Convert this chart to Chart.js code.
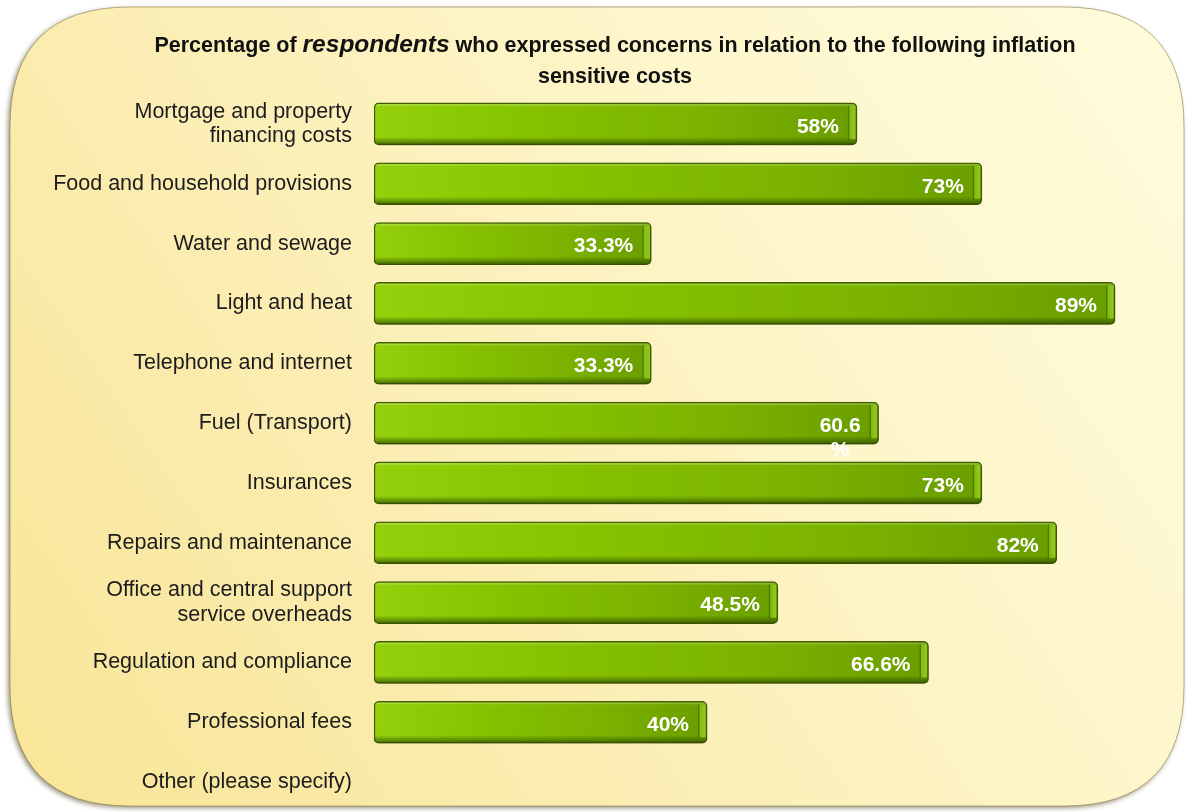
<!DOCTYPE html>
<html>
<head>
<meta charset="utf-8">
<script src="https://cdn.jsdelivr.net/npm/chart.js@4.4.1/dist/chart.umd.min.js"></script>
<style>
  html, body { margin: 0; padding: 0; background: #ffffff; overflow: hidden; }
  #wrap { width: 1187px; height: 812px; position: relative; }
</style>
</head>
<body>
<div id="wrap"><canvas id="c" width="1187" height="812"></canvas></div>
<script>
// Cost categories (multi-line labels as arrays)
const categories = [
  ['Mortgage and property', 'financing costs'],
  'Food and household provisions',
  'Water and sewage',
  'Light and heat',
  'Telephone and internet',
  'Fuel (Transport)',
  'Insurances',
  'Repairs and maintenance',
  ['Office and central support', 'service overheads'],
  'Regulation and compliance',
  'Professional fees',
  'Other (please specify)'
];

// Share of respondents concerned, in percent (no bar for "Other")
const concernPct = [58, 73, 33.3, 89, 33.3, 60.6, 73, 82, 48.5, 66.6, 40, null];

// Value labels whose "%" wraps onto a second line
const wrappedLabelIdx = [5];

const FONT = "'Liberation Sans', Arial, Helvetica, sans-serif";
Chart.defaults.font.family = FONT;

function roundRectPath(ctx, x, y, w, h, r) {
  ctx.beginPath();
  ctx.moveTo(x + r, y);
  ctx.lineTo(x + w - r, y);
  ctx.quadraticCurveTo(x + w, y, x + w, y + r);
  ctx.lineTo(x + w, y + h - r);
  ctx.quadraticCurveTo(x + w, y + h, x + w - r, y + h);
  ctx.lineTo(x + r, y + h);
  ctx.quadraticCurveTo(x, y + h, x, y + h - r);
  ctx.lineTo(x, y + r);
  ctx.quadraticCurveTo(x, y, x + r, y);
  ctx.closePath();
}

// Rounded cream panel behind the whole chart
const panelPlugin = {
  id: 'panel',
  beforeDraw(chart) {
    const ctx = chart.ctx;
    ctx.save();
    ctx.fillStyle = '#ffffff';
    ctx.fillRect(0, 0, chart.width, chart.height);
    const x = 10, y = 7, w = 1174, h = 799, r = 120;
    roundRectPath(ctx, x, y, w, h, r);
    const g = ctx.createLinearGradient(x, y + h, x + w, y);
    g.addColorStop(0, '#f8e596');
    g.addColorStop(0.35, '#fbedb2');
    g.addColorStop(0.7, '#fef7cd');
    g.addColorStop(1, '#fffcdc');
    ctx.shadowColor = 'rgba(60,50,10,0.55)';
    ctx.shadowBlur = 5;
    ctx.shadowOffsetX = -2;
    ctx.shadowOffsetY = 2;
    ctx.fillStyle = g;
    ctx.fill();
    ctx.shadowColor = 'transparent';
    ctx.lineWidth = 1;
    ctx.strokeStyle = 'rgba(130,115,60,0.55)';
    ctx.stroke();
    ctx.restore();
  }
};

// Two-line heading with an italic word
const headingPlugin = {
  id: 'heading',
  afterDraw(chart) {
    const ctx = chart.ctx;
    const cx = 615;
    const parts = [
      ['Percentage of ', 'bold 21.5px ' + FONT],
      ['respondents', 'italic bold 24.5px ' + FONT],
      [' who expressed concerns in relation to the following inflation', 'bold 21.5px ' + FONT]
    ];
    ctx.save();
    ctx.fillStyle = '#111111';
    ctx.textBaseline = 'alphabetic';
    let total = 0;
    parts.forEach(p => { ctx.font = p[1]; total += ctx.measureText(p[0]).width; });
    let x = cx - total / 2;
    ctx.textAlign = 'left';
    parts.forEach(p => { ctx.font = p[1]; ctx.fillText(p[0], x, 52); x += ctx.measureText(p[0]).width; });
    ctx.font = 'bold 21.5px ' + FONT;
    ctx.textAlign = 'center';
    ctx.fillText('sensitive costs', cx, 83);
    ctx.restore();
  }
};

// Soft shadow under the bars
const barShadowPlugin = {
  id: 'barShadow',
  beforeDatasetDraw(chart) {
    const ctx = chart.ctx;
    ctx.save();
    ctx.shadowColor = 'rgba(40,40,0,0.35)';
    ctx.shadowBlur = 3;
    ctx.shadowOffsetX = 0;
    ctx.shadowOffsetY = 2;
  },
  afterDatasetDraw(chart) {
    chart.ctx.restore();
  }
};

// Bevel details and value labels on each bar
const barDecorPlugin = {
  id: 'barDecor',
  afterDatasetsDraw(chart) {
    const ctx = chart.ctx;
    const meta = chart.getDatasetMeta(0);
    meta.data.forEach((bar, i) => {
      const v = concernPct[i];
      if (v == null) return;
      const p = bar.getProps(['x', 'y', 'base', 'height'], true);
      const top = p.y - p.height / 2, bot = p.y + p.height / 2;
      const left = p.base, right = p.x;
      ctx.save();
      roundRectPath(ctx, left + 0.75, top + 0.75, right - left - 1.5, p.height - 1.5, 4.5);
      ctx.clip();
      // top highlight
      ctx.fillStyle = 'rgba(255,255,210,0.22)';
      ctx.fillRect(left, top + 1, right - left, 2);
      // lower bevel
      const sg = ctx.createLinearGradient(0, bot - 8, 0, bot);
      sg.addColorStop(0, 'rgba(40,70,0,0)');
      sg.addColorStop(1, 'rgba(40,70,0,0.75)');
      ctx.fillStyle = sg;
      ctx.fillRect(left, bot - 8, right - left, 8);
      // lit end cap
      ctx.fillStyle = 'rgba(60,95,0,0.55)';
      ctx.fillRect(right - 9, top + 3, 1.5, p.height - 8);
      const eg = ctx.createLinearGradient(right - 8, 0, right - 1, 0);
      eg.addColorStop(0, '#80b80c');
      eg.addColorStop(1, '#94cc22');
      ctx.fillStyle = eg;
      ctx.fillRect(right - 7.5, top + 3, 6, p.height - 9);
      ctx.restore();

      // value label
      ctx.save();
      ctx.font = 'bold 21px ' + FONT;
      ctx.fillStyle = '#ffffff';
      ctx.textBaseline = 'middle';
      const txt = `${v}%`;
      const rEdge = right - 18;
      if (wrappedLabelIdx.includes(i)) {
        const l1 = String(v), l2 = '%';
        const w = ctx.measureText(l1).width;
        ctx.textAlign = 'center';
        ctx.fillText(l1, rEdge - w / 2, p.y + 3);
        ctx.fillText(l2, rEdge - w / 2, p.y + 27);
      } else {
        ctx.textAlign = 'right';
        ctx.fillText(txt, rEdge, p.y + 3);
      }
      ctx.restore();
    });
  }
};

function barFill(c) {
  const chart = c.chart;
  const v = c.raw;
  if (v == null || !chart.chartArea || !chart.scales.x) return '#80b800';
  const xs = chart.scales.x;
  const x0 = xs.getPixelForValue(0), x1 = xs.getPixelForValue(v);
  const g = chart.ctx.createLinearGradient(x0, 0, x1, 0);
  g.addColorStop(0, '#94d10c');
  g.addColorStop(0.3, '#86c300');
  g.addColorStop(0.7, '#7bb200');
  g.addColorStop(1, '#6a9d00');
  return g;
}

new Chart(document.getElementById('c').getContext('2d'), {
  type: 'bar',
  data: {
    labels: categories,
    datasets: [{
      data: concernPct,
      backgroundColor: barFill,
      borderColor: '#405f00',
      borderWidth: 1.5,
      borderRadius: 5,
      borderSkipped: false,
      barThickness: 42
    }]
  },
  options: {
    indexAxis: 'y',
    responsive: false,
    animation: false,
    layout: { padding: { top: 94, right: 47, bottom: 0, left: 0 } },
    plugins: { legend: { display: false }, tooltip: { enabled: false } },
    scales: {
      x: { min: 0, max: 92, display: false },
      y: {
        grid: { display: false, drawTicks: false },
        border: { display: false },
        ticks: { color: '#1c1c1c', font: { size: 21.5, lineHeight: 1.12 }, padding: 22 },
        afterFit(scale) {
          scale.width = 374;
          scale.paddingTop = 0;
          scale.paddingBottom = 0;
        }
      }
    }
  },
  plugins: [panelPlugin, barShadowPlugin, barDecorPlugin, headingPlugin]
});
</script>
</body>
</html>
